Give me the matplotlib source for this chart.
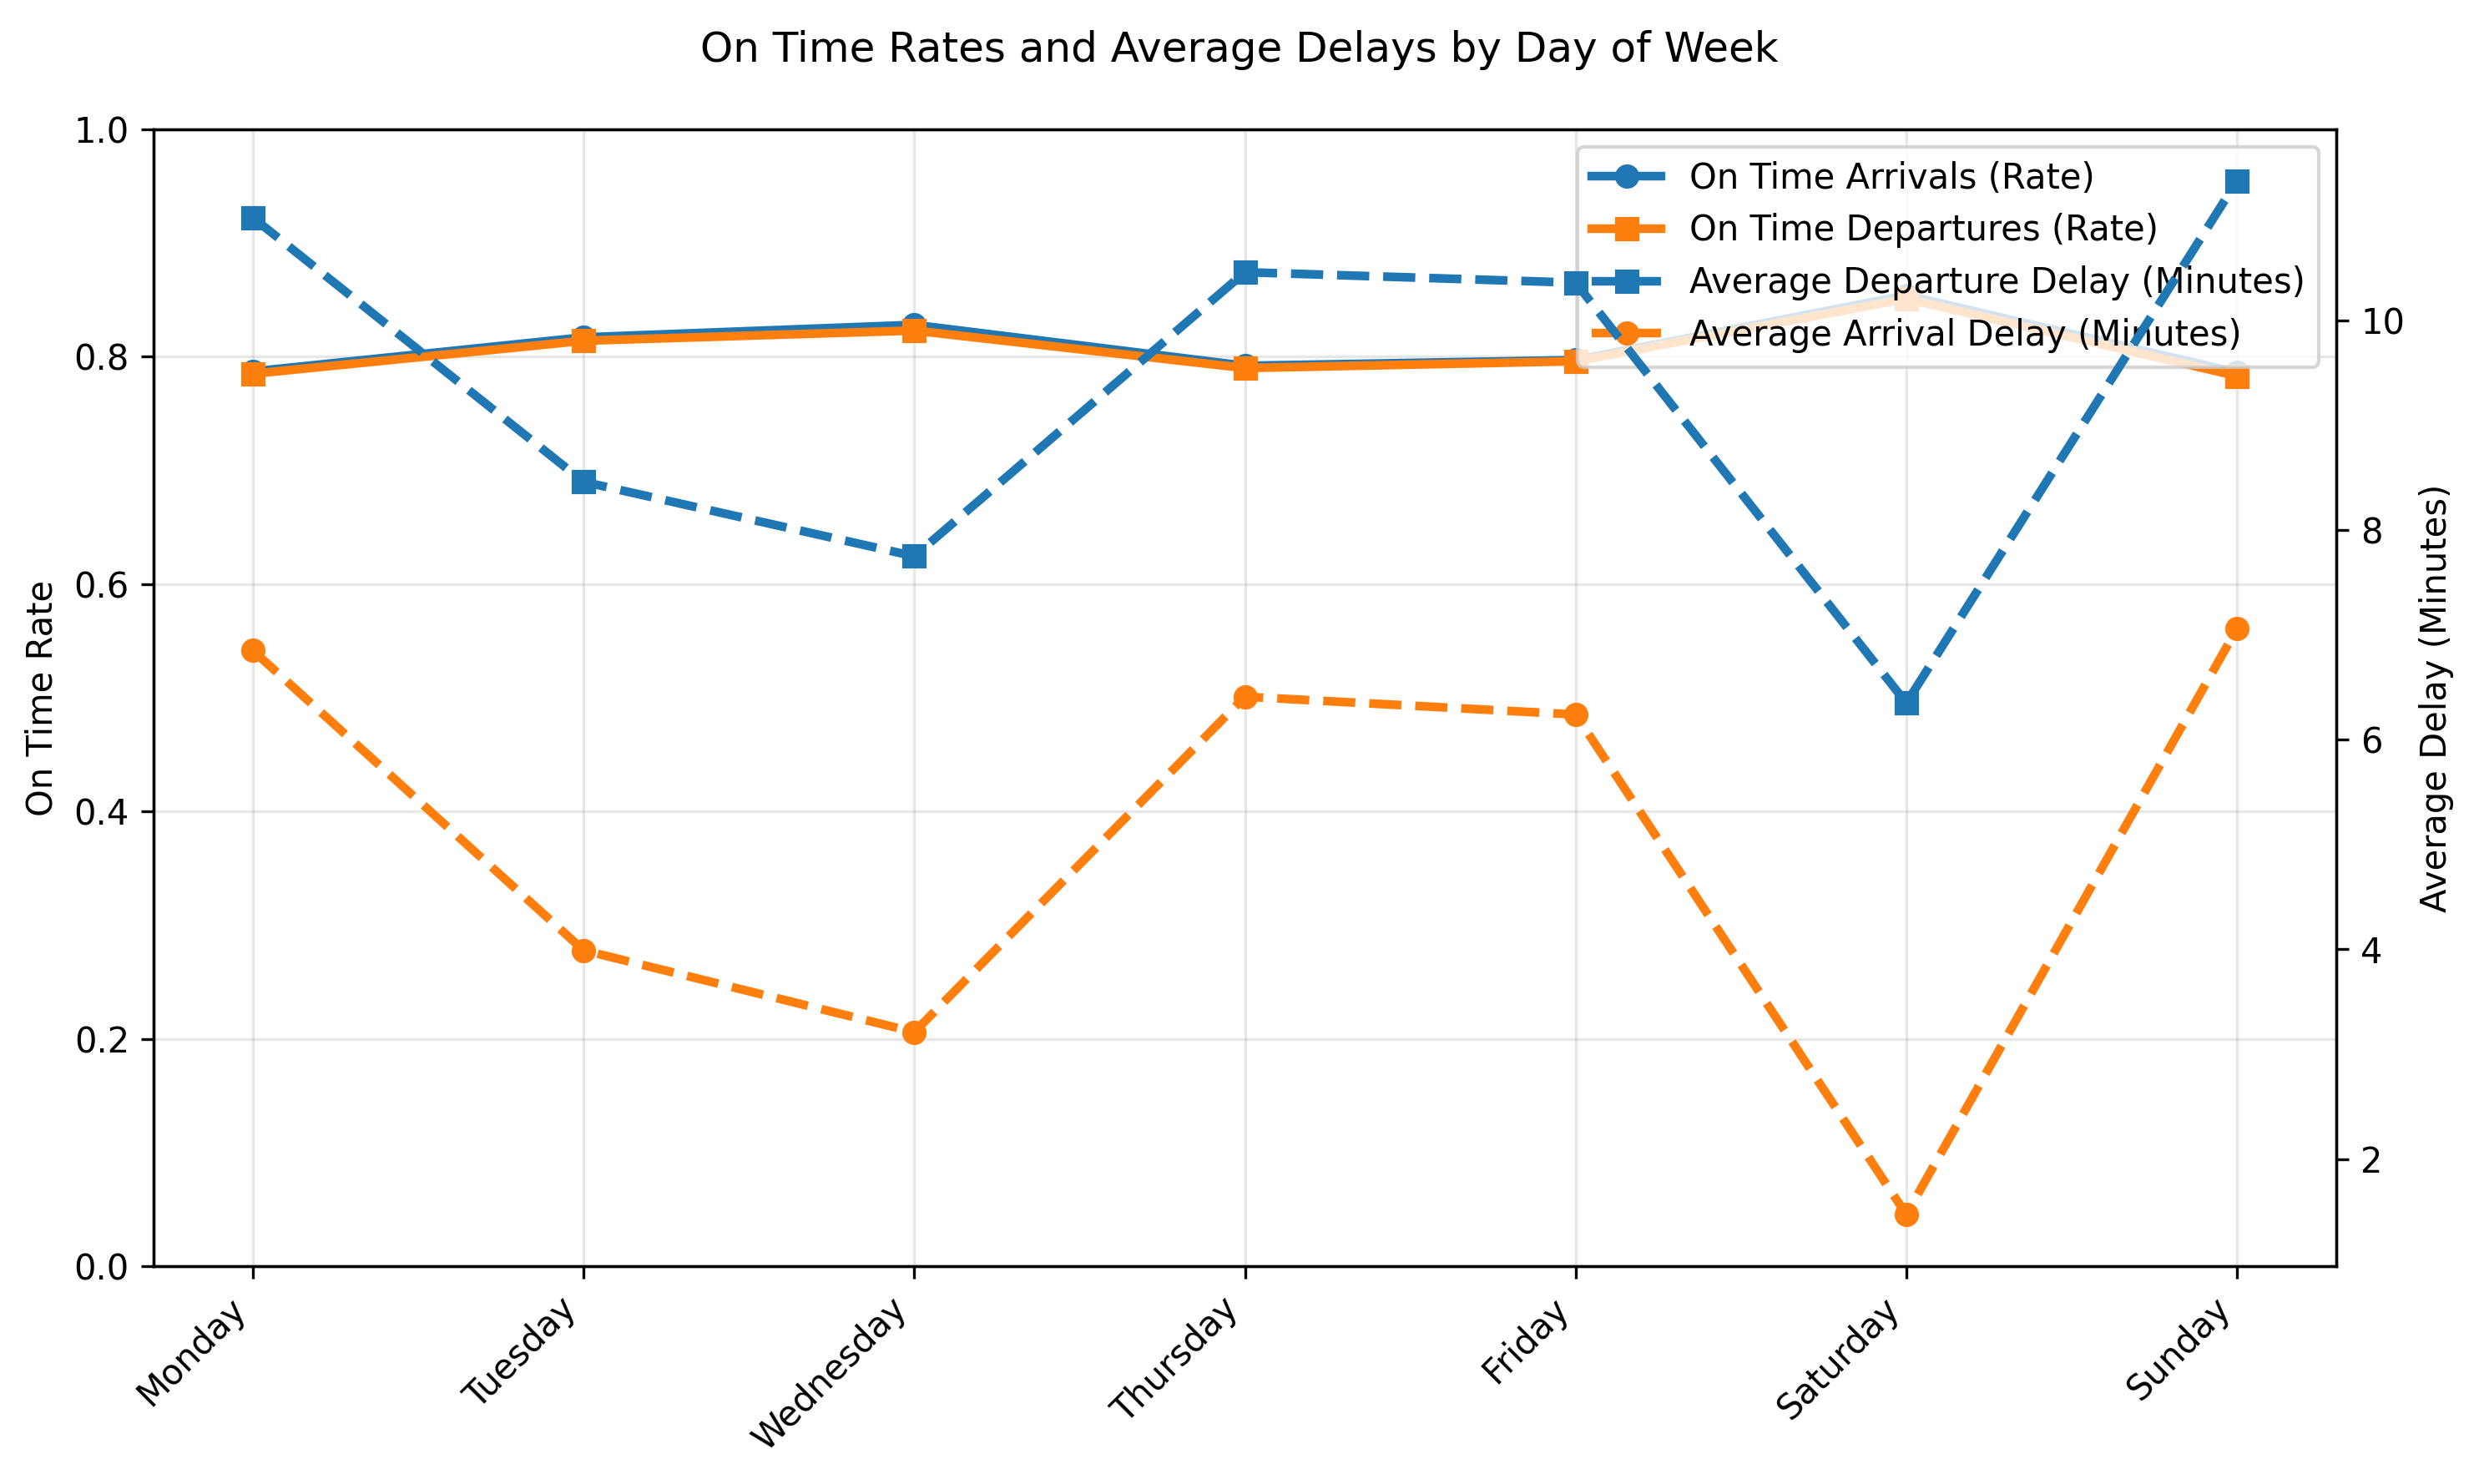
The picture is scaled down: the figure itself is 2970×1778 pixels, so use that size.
"""On time rates and average delays by day of week (dual axis)."""

import matplotlib
matplotlib.use("Agg")
import matplotlib.pyplot as plt

days = ["Monday", "Tuesday", "Wednesday", "Thursday", "Friday", "Saturday", "Sunday"]

# On time rates (left axis)
on_time_arrivals = [0.787, 0.817, 0.828, 0.792, 0.797, 0.854, 0.786]
on_time_departures = [0.785, 0.814, 0.823, 0.790, 0.796, 0.851, 0.783]

# Average delays in minutes (right axis)
avg_departure_delay = [10.98, 8.46, 7.75, 10.46, 10.36, 6.35, 11.33]
avg_arrival_delay = [6.85, 3.99, 3.21, 6.41, 6.24, 1.47, 7.06]

fig, ax1 = plt.subplots(figsize=(9.9, 5.927), dpi=300)
fig.subplots_adjust(left=0.062, right=0.9424, top=0.9128, bottom=0.1468)

x = range(len(days))

l1, = ax1.plot(x, on_time_arrivals, marker="o", linewidth=2.5, color="C0",
               label="On Time Arrivals (Rate)")
l2, = ax1.plot(x, on_time_departures, marker="s", linewidth=2.5, color="C1",
               label="On Time Departures (Rate)")
ax1.set_ylim(0, 1)
ax1.set_ylabel("On Time Rate")
ax1.set_xticks(list(x))
ax1.set_xticklabels(days, rotation=45, ha="right")
ax1.grid(True, alpha=0.3)

ax2 = ax1.twinx()
l3, = ax2.plot(x, avg_departure_delay, marker="s", linestyle="--", linewidth=2.5,
               color="C0", label="Average Departure Delay (Minutes)")
l4, = ax2.plot(x, avg_arrival_delay, marker="o", linestyle="--", linewidth=2.5,
               color="C1", label="Average Arrival Delay (Minutes)")
ax2.set_ylabel("Average Delay (Minutes)")

lines = [l1, l2, l3, l4]
ax1.legend(lines, [l.get_label() for l in lines], loc="upper right")

fig.suptitle("On Time Rates and Average Delays by Day of Week")

plt.savefig("out.png", dpi=300)
plt.close()
